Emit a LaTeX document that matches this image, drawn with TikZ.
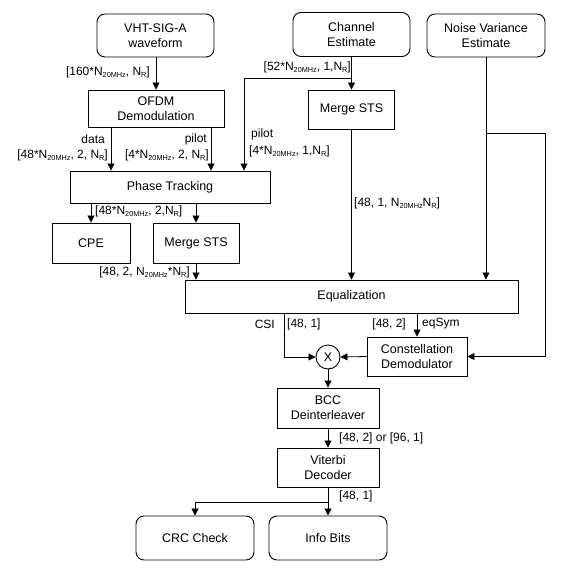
\documentclass[tikz,border=0pt]{standalone}
\usepackage{fontspec}
\setmainfont{Liberation Sans}
\usetikzlibrary{arrows.meta,calc}
\newcommand\lsub[1]{\raisebox{-0.35ex}{\fontsize{7.3}{8}\selectfont #1}}
\tikzset{
  box/.style={draw, line width=0.9pt, align=center, inner sep=0pt, font=\fontsize{12.5}{15}\selectfont},
  rbox/.style={box, rounded corners=8pt},
  ln/.style={line width=0.8pt},
  arr/.style={line width=0.8pt, -{Triangle[length=7pt,width=7pt]}},
  lbl/.style={inner sep=0pt, font=\fontsize{12}{14}\selectfont}
}
\begin{document}
\begin{tikzpicture}[x=1pt,y=-1pt]
\useasboundingbox (0,0) rectangle (570,575);
% boxes
\node[rbox, minimum width=117pt, minimum height=43pt] (vht) at (155.5,35.5) {VHT-SIG-A\\waveform};
\node[box, minimum width=136pt, minimum height=37pt] (ofdm) at (156,108.5) {OFDM\\Demodulation};
\node[rbox, minimum width=117pt, minimum height=44pt] (chan) at (351.5,34.5) {Channel\\Estimate};
\node[rbox, minimum width=118pt, minimum height=43pt] (noise) at (486,35.5) {Noise Variance\\Estimate};
\node[box, minimum width=86pt, minimum height=39pt] (ms1) at (351.5,109.5) {Merge STS};
\node[box, minimum width=200pt, minimum height=32pt] (pt) at (170,187) {Phase Tracking};
\node[box, minimum width=78pt, minimum height=40pt] (cpe) at (91,243) {CPE};
\node[box, minimum width=86pt, minimum height=40pt] (ms2) at (196,243) {Merge STS};
\node[box, minimum width=333pt, minimum height=33pt] (eq) at (351.5,296.5) {Equalization};
\node[box, circle, minimum size=24pt] (mul) at (328,357) {X};
\node[box, minimum width=100pt, minimum height=39pt] (cd) at (417,356.5) {Constellation\\Demodulator};
\node[box, minimum width=102pt, minimum height=40pt] (bcc) at (328,408) {BCC\\Deinterleaver};
\node[box, minimum width=102pt, minimum height=39pt] (vit) at (328,467.5) {Viterbi\\Decoder};
\node[rbox, minimum width=118pt, minimum height=44pt] (crc) at (195,538) {CRC Check};
\node[rbox, minimum width=118pt, minimum height=44pt] (info) at (328,538) {Info Bits};
% junction coordinates
\coordinate (b1) at (351.5,78);
\coordinate (nb) at (486,133);
\coordinate (nr) at (545,133);
\coordinate (b2) at (328,502);
% connectors
\draw[arr] (ofdm.north |- vht.south) -- (ofdm.north);
\draw[arr] ([xshift=-45pt]ofdm.south) -- ([xshift=-45pt]ofdm.south |- pt.north);
\draw[arr] ([xshift=55pt]ofdm.south) -- ([xshift=55pt]ofdm.south |- pt.north);
\draw[arr] (chan.south) -- (ms1.north);
\draw[arr] (b1) -| ([xshift=74pt]pt.north);
\draw[arr] (ms1.south) -- (ms1.south |- eq.north);
\draw[arr] (noise.south) -- (noise.south |- eq.north);
\draw[arr] (nb) -- (nr) |- (cd.east);
\draw[arr] (cpe.north |- pt.south) -- (cpe.north);
\draw[arr] (ms2.north |- pt.south) -- (ms2.north);
\draw[arr] (ms2.south) -- (ms2.south |- eq.north);
\draw[arr] ([xshift=-67.5pt]eq.south) |- (mul.west);
\draw[arr] (cd.north |- eq.south) -- (cd.north);
\draw[arr] (cd.west) -- (mul.east);
\draw[arr] (mul.south) -- (bcc.north);
\draw[arr] (bcc.south) -- (vit.north);
\draw[arr] (vit.south) -- (info.north);
\draw[arr] (b2) -| (crc.north);
% labels
\node[lbl, anchor=east] (l1) at (150,72) {[160*N\lsub{20MHz}, N\lsub{R}]};
\node[lbl, anchor=east] (l2) at (351,67) {[52*N\lsub{20MHz}, 1,N\lsub{R}]};
\node[lbl, anchor=east] (l3) at (105,139) {data};
\node[lbl, anchor=east] (l4) at (207,139) {pilot};
\node[lbl, anchor=east] (l5) at (108,155) {[48*N\lsub{20MHz}, 2, N\lsub{R}]};
\node[lbl, anchor=east] (l6) at (209,155) {[4*N\lsub{20MHz}, 2, N\lsub{R}]};
\node[lbl, anchor=west] (l7) at (251,134) {pilot};
\node[lbl, anchor=west] (l8) at (249,151) {[4*N\lsub{20MHz}, 1,N\lsub{R}]};
\node[lbl, anchor=west] (l9) at (95,211) {[48*N\lsub{20MHz}, 2,N\lsub{R}]};
\node[lbl, anchor=east] (l10) at (190,272) {[48, 2, N\lsub{20MHz}*N\lsub{R}]};
\node[lbl, anchor=west] (l11) at (354,203) {[48, 1, N\lsub{20MHz}N\lsub{R}]};
\node[lbl, anchor=east] (l12) at (275,324) {CSI};
\node[lbl, anchor=west] (l13) at (287,324) {[48, 1]};
\node[lbl, anchor=east] (l14) at (406,324) {[48, 2]};
\node[lbl, anchor=west] (l15) at (422,324) {eqSym};
\node[lbl, anchor=west] (l16) at (339,438) {[48, 2] or [96, 1]};
\node[lbl, anchor=west] (l17) at (339,496) {[48, 1]};
\end{tikzpicture}
\end{document}
